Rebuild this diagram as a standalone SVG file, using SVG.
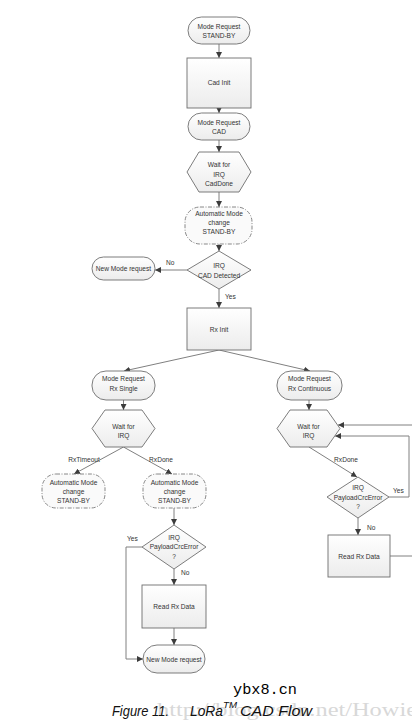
<svg xmlns="http://www.w3.org/2000/svg" width="412" height="721" viewBox="0 0 412 721">
<style>
.nd{fill:url(#g);stroke:#6e6e6e;stroke-width:0.9}
.dash{fill:#fafafa;stroke:#7a7a7a;stroke-width:0.9;stroke-dasharray:4 1.5 1 1.5}
.t{font-family:"Liberation Sans",Arial,sans-serif;font-size:6.6px;fill:#333;text-anchor:middle}
.l{font-family:"Liberation Sans",Arial,sans-serif;font-size:6.6px;fill:#333}
.c{fill:none;stroke:#808080;stroke-width:1}
.cap{font-family:"Liberation Sans",Arial,sans-serif;font-style:italic;fill:#111}
</style>
<defs>
<linearGradient id="g" x1="0" y1="0" x2="0" y2="1">
<stop offset="0" stop-color="#ffffff"/>
<stop offset="1" stop-color="#ececec"/>
</linearGradient>
<marker id="a" viewBox="0 0 10 10" refX="10" refY="5" markerWidth="6" markerHeight="6" markerUnits="userSpaceOnUse" orient="auto">
<path d="M0,0 L10,5 L0,10 z" fill="#3c3c3c"/>
</marker>
</defs>
<rect width="412" height="721" fill="#ffffff"/>

<g id="connectors">
<line class="c" x1="219" y1="44" x2="219" y2="58" marker-end="url(#a)"/>
<line class="c" x1="219" y1="108" x2="219" y2="113" marker-end="url(#a)"/>
<line class="c" x1="219" y1="140" x2="219" y2="152" marker-end="url(#a)"/>
<line class="c" x1="219" y1="192" x2="219" y2="207" marker-end="url(#a)"/>
<line class="c" x1="219" y1="244" x2="219" y2="251" marker-end="url(#a)"/>
<line class="c" x1="187" y1="270" x2="155" y2="270" marker-end="url(#a)"/>
<text class="l" x="166" y="265">No</text>
<line class="c" x1="219" y1="289" x2="219" y2="308" marker-end="url(#a)"/>
<text class="l" x="225" y="299">Yes</text>
<line class="c" x1="219" y1="350" x2="124" y2="371" marker-end="url(#a)"/>
<line class="c" x1="219" y1="350" x2="310" y2="371" marker-end="url(#a)"/>
<line class="c" x1="123.5" y1="400" x2="123.5" y2="410" marker-end="url(#a)"/>
<line class="c" x1="309" y1="400" x2="309" y2="410" marker-end="url(#a)"/>
<line class="c" x1="123.5" y1="447" x2="74" y2="474" marker-end="url(#a)"/>
<text class="t" x="84" y="462">RxTimeout</text>
<line class="c" x1="123.5" y1="447" x2="172" y2="474" marker-end="url(#a)"/>
<text class="t" x="161" y="462">RxDone</text>
<line class="c" x1="174" y1="508" x2="174" y2="525" marker-end="url(#a)"/>
<polyline class="c" points="142,547 126,547 126,659 143,659" marker-end="url(#a)"/>
<text class="l" x="127" y="541">Yes</text>
<line class="c" x1="174" y1="569" x2="174" y2="585" marker-end="url(#a)"/>
<text class="l" x="181" y="575">No</text>
<line class="c" x1="174" y1="628" x2="174" y2="645" marker-end="url(#a)"/>
<line class="c" x1="309" y1="447" x2="357" y2="477" marker-end="url(#a)"/>
<text class="t" x="346" y="462">RxDone</text>
<line class="c" x1="358" y1="518" x2="358" y2="535" marker-end="url(#a)"/>
<text class="l" x="367" y="530">No</text>
<polyline class="c" points="389,497 409,497 409,436 335,436" marker-end="url(#a)"/>
<text class="l" x="393" y="493">Yes</text>
<line class="c" x1="390" y1="556" x2="412" y2="556"/>
<line class="c" x1="412" y1="425" x2="338" y2="425" marker-end="url(#a)"/>
</g>

<g id="n_standby">
<rect class="nd" x="188" y="17" width="62" height="27" rx="13.5"/>
<text class="t" x="219" y="28.5">Mode Request</text>
<text class="t" x="219" y="38">STAND-BY</text>
</g>
<g id="n_cadinit">
<rect class="nd" x="187" y="58" width="64" height="50"/>
<text class="t" x="219" y="85">Cad Init</text>
</g>
<g id="n_modecad">
<rect class="nd" x="188" y="113" width="62" height="27" rx="13.5"/>
<text class="t" x="219" y="124.5">Mode Request</text>
<text class="t" x="219" y="134">CAD</text>
</g>
<g id="n_waitcad">
<polygon class="nd" points="187,172 199,152 239,152 251,172 239,192 199,192"/>
<text class="t" x="219" y="167">Wait for</text>
<text class="t" x="219" y="177">IRQ</text>
<text class="t" x="219" y="186">CadDone</text>
</g>
<g id="n_auto1">
<rect class="dash" x="185" y="207" width="67" height="37" rx="15"/>
<text class="t" x="219" y="216">Automatic Mode</text>
<text class="t" x="219" y="225">change</text>
<text class="t" x="219" y="234">STAND-BY</text>
</g>
<g id="n_caddet">
<polygon class="nd" points="219,251 251,270 219,289 187,270"/>
<text class="t" x="219" y="267.5">IRQ</text>
<text class="t" x="219" y="277.5">CAD Detected</text>
</g>
<g id="n_newmode1">
<rect class="nd" x="92" y="257" width="63" height="23" rx="11.5"/>
<text class="t" x="123.5" y="271">New Mode request</text>
</g>
<g id="n_rxinit">
<rect class="nd" x="187" y="308" width="64" height="42"/>
<text class="t" x="219" y="331.5">Rx Init</text>
</g>
<g id="n_rxsingle">
<rect class="nd" x="92" y="371" width="63" height="29" rx="14"/>
<text class="t" x="123.5" y="381">Mode Request</text>
<text class="t" x="123.5" y="390.5">Rx Single</text>
</g>
<g id="n_rxcont">
<rect class="nd" x="277" y="371" width="65" height="29" rx="14"/>
<text class="t" x="309.5" y="381">Mode Request</text>
<text class="t" x="309.5" y="390.5">Rx Continuous</text>
</g>
<g id="n_wait1">
<polygon class="nd" points="92,428.5 105,410 142,410 155,428.5 142,447 105,447"/>
<text class="t" x="123.5" y="429">Wait for</text>
<text class="t" x="123.5" y="438">IRQ</text>
</g>
<g id="n_wait2">
<polygon class="nd" points="277,428.5 290,410 327,410 340,428.5 327,447 290,447"/>
<text class="t" x="308.5" y="429">Wait for</text>
<text class="t" x="308.5" y="438">IRQ</text>
</g>
<g id="n_auto2">
<rect class="dash" x="42" y="474" width="63" height="34" rx="14"/>
<text class="t" x="73.5" y="485">Automatic Mode</text>
<text class="t" x="73.5" y="494">change</text>
<text class="t" x="73.5" y="503">STAND-BY</text>
</g>
<g id="n_auto3">
<rect class="dash" x="143" y="474" width="63" height="34" rx="14"/>
<text class="t" x="174.5" y="485">Automatic Mode</text>
<text class="t" x="174.5" y="494">change</text>
<text class="t" x="174.5" y="503">STAND-BY</text>
</g>
<g id="n_crc1">
<polygon class="nd" points="174,525 206,547 174,569 142,547"/>
<text class="t" x="174" y="539.5">IRQ</text>
<text class="t" x="174" y="549">PayloadCrcError</text>
<text class="t" x="174" y="558.5">?</text>
</g>
<g id="n_read1">
<rect class="nd" x="142" y="585" width="64" height="43"/>
<text class="t" x="174" y="608.5">Read Rx Data</text>
</g>
<g id="n_newmode2">
<rect class="nd" x="143" y="645" width="62" height="28" rx="14"/>
<text class="t" x="174" y="661.5">New Mode request</text>
</g>
<g id="n_crc2">
<polygon class="nd" points="358,477 389,497 358,518 327,497"/>
<text class="t" x="358" y="490">IRQ</text>
<text class="t" x="358" y="499.5">PayloadCrcError</text>
<text class="t" x="358" y="509">?</text>
</g>
<g id="n_read2">
<rect class="nd" x="328" y="535" width="62" height="42"/>
<text class="t" x="359" y="558.5">Read Rx Data</text>
</g>

<g id="caption">
<text x="157" y="716" font-family="'Liberation Serif','DejaVu Serif',serif" font-size="19" fill="#d8d8d8" textLength="260" lengthAdjust="spacingAndGlyphs">http://blog.csdn.net/Howie</text>
<text x="233" y="694" font-family="'Liberation Mono','DejaVu Sans Mono',monospace" font-size="15" fill="#000" textLength="64" lengthAdjust="spacingAndGlyphs">ybx8.cn</text>
<text class="cap" x="112" y="716" font-size="14.5" textLength="57" lengthAdjust="spacingAndGlyphs">Figure 11.</text>
<text class="cap" x="190" y="716" font-size="14.5" textLength="33" lengthAdjust="spacingAndGlyphs">LoRa</text>
<text class="cap" x="223" y="708" font-size="9" textLength="14" lengthAdjust="spacingAndGlyphs">TM</text>
<text class="cap" x="240" y="716" font-size="14.5" textLength="72" lengthAdjust="spacingAndGlyphs">CAD Flow</text>
</g>
</svg>
